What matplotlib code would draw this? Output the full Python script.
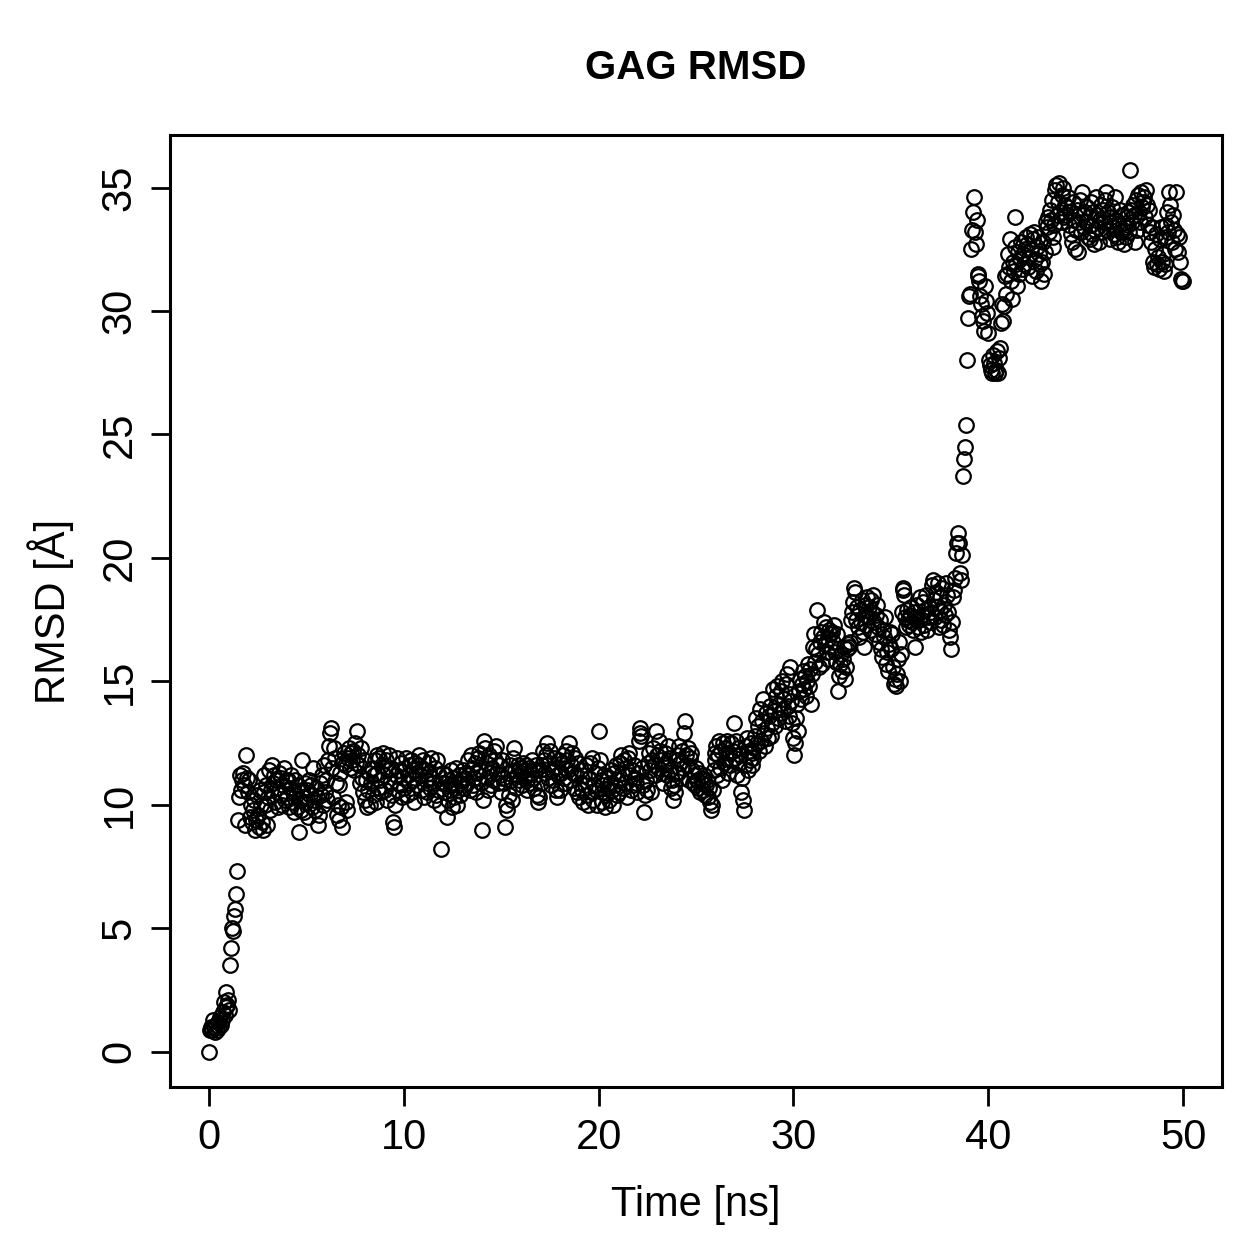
import numpy as np
import matplotlib
matplotlib.use("Agg")
import matplotlib.pyplot as plt

plt.rcParams['font.family'] = ['Liberation Sans', 'DejaVu Sans']

title = "GAG RMSD"
xlabel = "Time [ns]"
ylabel = "RMSD [Å]"
time_step = 0.05  # ns between frames
xticks = [0, 10, 20, 30, 40, 50]
yticks = [0, 5, 10, 15, 20, 25, 30, 35]

rmsd = [
    0.0,0.9,1.0,0.9,1.3,1.0,0.8,1.1,0.9,1.2,1.0,1.4,1.1,1.3,1.6,2.0,1.5,1.8,2.4,1.9,
    2.1,1.7,3.5,4.2,5.0,4.9,5.5,5.8,6.4,7.3,9.4,10.3,11.2,10.6,11.0,11.3,10.8,9.2,12.0,11.1,
    10.5,11.0,9.5,10.0,9.3,9.8,10.2,9.0,9.4,10.4,9.6,9.1,10.6,10.0,9.3,9.0,10.5,11.2,10.0,10.8,
    9.2,10.3,11.4,9.8,10.6,11.6,10.9,11.2,10.1,11.0,10.7,9.9,11.3,10.4,11.1,10.0,10.8,11.5,10.2,11.0,
    10.3,11.0,9.9,10.7,11.2,10.1,10.5,9.7,11.0,10.4,9.9,10.8,8.9,10.2,9.8,10.6,11.8,10.3,9.7,10.9,
    10.1,10.6,9.5,11.0,10.4,10.8,9.9,11.5,10.2,9.8,10.7,10.3,9.2,9.6,10.9,10.4,11.2,10.0,11.6,10.5,
    11.0,10.2,11.8,12.4,12.9,13.1,11.5,10.3,12.3,11.9,10.9,9.6,10.0,9.4,10.8,11.3,9.9,9.1,11.7,12.1,
    11.6,10.1,9.8,11.9,12.3,11.5,12.1,11.8,12.2,11.4,12.5,11.7,13.0,12.0,11.6,10.9,12.3,11.1,10.5,11.8,
    10.2,11.0,9.9,10.6,11.3,10.0,10.9,11.5,10.4,11.2,11.8,10.1,12.0,11.3,10.7,11.9,11.0,10.5,11.6,12.1,
    11.2,10.6,11.8,10.2,11.4,12.0,10.9,11.5,10.4,9.3,9.1,10.0,11.2,11.9,10.6,11.4,10.8,11.7,10.3,11.1,
    10.7,11.5,11.9,10.4,11.2,10.9,11.6,11.8,10.5,11.0,11.4,10.1,11.7,11.3,10.8,11.6,12.0,11.2,10.6,11.5,
    11.8,10.3,11.4,11.0,10.5,11.7,11.3,10.7,11.9,11.1,10.9,10.2,11.5,10.4,11.8,10.6,11.2,10.0,8.2,10.9,
    11.3,10.5,10.9,11.2,9.5,10.2,11.0,10.6,11.4,9.9,10.8,11.1,10.3,10.7,11.5,10.0,10.6,11.2,10.4,10.9,
    11.0,11.4,10.7,11.1,11.3,10.9,11.8,11.2,10.6,12.0,11.5,10.8,11.1,11.7,10.5,11.3,11.9,12.1,11.4,10.9,
    9.0,10.2,12.6,12.3,11.7,11.1,10.6,11.9,12.0,11.3,10.8,11.5,11.0,12.2,11.8,12.4,11.3,10.9,11.6,11.2,
    10.5,11.8,11.1,10.9,9.1,10.0,9.8,11.3,10.4,11.6,11.0,10.2,11.9,12.3,11.4,10.7,11.2,11.6,11.0,11.5,
    11.3,10.8,11.7,11.1,11.4,11.6,11.0,10.6,11.2,11.5,10.9,11.3,11.8,11.1,10.7,11.4,11.6,10.4,10.1,10.3,
    11.4,10.9,11.6,12.2,11.8,11.3,12.0,12.5,11.1,11.7,12.2,10.8,11.4,11.0,11.9,11.5,10.6,10.3,11.2,11.8,
    10.6,11.3,11.7,12.0,11.1,11.5,10.9,12.2,11.8,11.4,12.5,11.0,11.6,12.1,11.3,10.7,11.9,11.2,10.5,11.7,
    10.3,10.9,11.4,10.6,10.1,11.2,10.8,11.6,10.4,10.0,11.1,11.7,10.5,11.9,10.2,10.8,11.3,10.6,10.0,11.5,
    13.0,11.8,11.0,10.5,10.1,10.8,11.2,9.9,10.4,11.1,10.7,10.2,10.9,11.4,10.6,10.0,11.3,10.8,11.6,10.4,
    11.0,10.5,11.7,12.0,11.3,10.7,11.8,10.9,11.5,10.3,11.9,12.1,11.2,10.6,11.4,10.8,11.6,11.1,10.9,10.5,
    11.3,12.6,13.1,12.9,12.8,11.5,10.8,9.7,10.4,11.0,10.6,11.7,12.1,11.4,10.5,11.8,12.3,11.6,11.2,13.0,
    12.0,11.5,12.6,12.2,11.8,11.3,10.9,11.6,12.1,11.7,11.2,12.4,11.9,11.4,10.7,11.0,10.2,10.8,10.5,11.3,
    11.8,12.0,11.3,12.4,11.7,11.1,12.2,11.5,12.9,13.4,12.0,11.6,12.3,11.0,11.9,12.1,11.4,10.9,11.2,10.8,
    11.5,11.0,10.7,11.3,10.5,11.1,10.9,10.6,11.2,10.4,10.8,11.0,10.3,10.7,10.1,9.8,10.0,10.6,11.4,12.1,
    11.8,12.4,11.2,12.0,12.6,11.5,12.2,11.0,12.5,11.7,12.3,11.9,12.6,11.3,12.1,11.6,12.5,11.8,12.2,13.3,
    11.9,12.6,11.2,12.3,11.7,12.0,10.5,11.1,10.2,9.8,11.6,12.4,12.7,11.4,12.2,11.8,12.5,11.6,12.1,11.9,
    12.3,12.8,13.5,12.5,13.2,12.2,13.9,12.6,13.4,14.3,12.9,12.4,13.7,13.1,12.7,13.6,14.0,12.8,13.3,14.7,
    13.8,13.2,14.4,14.8,13.5,14.1,13.7,14.6,15.0,13.9,14.3,13.4,14.9,15.3,14.0,13.6,14.5,15.6,14.2,13.3,
    12.7,12.0,12.5,13.5,14.1,13.0,14.6,15.1,14.3,14.9,15.4,14.7,15.2,14.4,15.0,15.7,14.8,15.5,14.1,15.3,
    16.4,16.9,15.8,16.3,17.9,16.1,15.6,16.6,17.0,15.7,16.8,17.4,16.5,17.2,16.2,15.9,16.7,17.1,16.9,16.4,
    17.0,16.6,17.3,16.2,15.8,16.9,14.6,15.2,15.7,16.1,15.4,15.9,16.4,15.1,15.6,16.3,16.5,16.4,16.6,17.5,
    17.8,18.2,18.8,18.6,17.5,18.0,17.2,16.8,17.9,17.4,18.3,17.0,16.4,17.7,18.1,17.3,18.4,17.6,18.0,17.1,
    18.3,17.8,18.5,17.4,16.9,17.7,18.1,17.2,16.6,17.5,16.3,16.0,17.1,16.8,17.6,15.7,16.2,15.4,16.5,17.0,
    16.3,16.9,15.6,14.9,15.1,14.8,15.3,15.9,16.6,15.0,16.1,17.8,18.8,18.7,18.5,17.6,17.2,17.9,17.5,17.3,
    17.7,18.0,17.4,17.1,17.8,16.4,17.6,18.1,17.2,17.5,18.4,17.0,17.7,18.2,17.3,17.9,18.5,17.1,17.6,18.0,
    17.4,17.8,18.9,19.1,18.3,17.6,18.6,18.0,19.0,17.2,17.9,18.4,17.5,18.8,17.3,18.1,17.7,19.0,18.5,17.8,
    17.1,16.8,16.3,17.4,18.4,18.7,19.2,20.2,20.6,21.0,20.6,19.4,19.1,20.1,23.3,24.0,24.5,25.4,28.0,29.7,
    30.6,30.7,32.5,33.3,34.0,34.6,33.2,32.7,33.7,31.5,31.4,31.2,30.6,30.3,29.8,29.6,29.2,31.0,30.4,29.9,
    29.1,28.0,27.8,27.6,27.5,28.2,27.9,27.5,27.6,28.4,27.5,28.1,28.5,29.5,30.3,29.6,30.2,31.4,30.7,31.5,
    32.3,31.8,32.9,31.2,30.5,32.0,31.6,32.6,33.8,31.9,31.0,32.4,31.5,32.1,32.8,31.7,32.3,31.9,32.5,33.0,
    32.7,31.8,32.2,33.1,32.5,31.4,32.9,33.2,32.1,31.6,32.6,33.0,32.3,31.9,31.2,32.0,32.8,31.5,32.4,33.6,
    33.4,33.8,33.2,34.1,33.7,34.5,33.0,32.6,33.5,34.9,35.1,33.9,34.4,35.2,34.0,33.6,34.7,35.0,33.8,34.3,
    33.9,34.2,34.6,33.5,34.0,33.1,32.8,34.4,33.7,32.5,33.3,34.1,32.4,33.6,34.5,33.2,34.8,33.9,33.4,34.0,
    33.6,34.2,33.0,33.8,32.9,34.4,33.5,33.1,34.0,32.7,33.3,34.6,33.9,33.4,32.8,33.7,34.3,33.2,34.1,33.6,
    34.5,34.8,33.3,34.0,33.6,32.9,33.8,34.2,33.4,33.1,34.6,33.7,33.0,32.8,33.5,34.1,33.2,33.9,33.3,32.7,
    33.4,33.0,33.8,33.5,34.0,33.2,35.7,34.1,33.6,34.3,33.9,32.8,34.5,33.3,34.7,34.0,33.6,34.8,34.2,34.4,
    34.6,33.8,34.9,34.3,33.5,34.1,33.2,32.8,33.4,32.0,31.8,32.5,33.1,31.9,32.2,31.7,32.9,33.4,32.0,32.3,
    31.6,31.9,33.0,33.5,34.0,33.2,34.8,34.3,33.6,32.8,33.9,33.3,32.5,34.8,33.1,32.4,33.0,32.0,31.3,31.2,
    31.2,
]

time = np.arange(len(rmsd)) * time_step

fig = plt.figure(figsize=(12.59, 12.59), dpi=100)
ax = fig.add_axes([170/1259, 1 - 1087/1259, (1222-170)/1259, (1087-135)/1259])

ax.plot(time, rmsd, linestyle='none', marker='o', markersize=10.5,
        markerfacecolor='none', markeredgecolor='black', markeredgewidth=1.6)

xmin, xmax = 0, 50
ymin, ymax = 0, max(rmsd)
ax.set_xlim(xmin - 0.04*(xmax-xmin), xmax + 0.04*(xmax-xmin))
ax.set_ylim(ymin - 0.04*(ymax-ymin), ymax + 0.04*(ymax-ymin))

ax.set_xticks(xticks)
ax.set_yticks(yticks)
ax.tick_params(direction='out', length=14, width=2, labelsize=30, pad=8)
for lab in ax.get_yticklabels():
    lab.set_rotation(90)
    lab.set_va('center')
for s in ax.spines.values():
    s.set_linewidth(2.2)

ax.set_xlabel(xlabel, fontsize=30, labelpad=20)
ax.set_ylabel(ylabel, fontsize=30, labelpad=18)
fig.text(0.5 * (170 + 1222) / 1259, 1 - 68/1259, title, ha='center', va='center',
         fontsize=29, fontweight='bold')

fig.savefig("out.png", dpi=100)
